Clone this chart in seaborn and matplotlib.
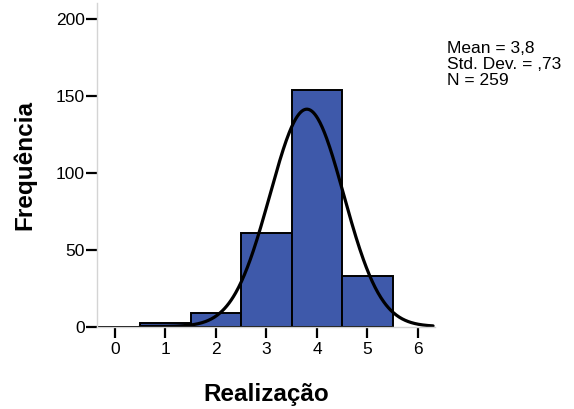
import numpy as np
import pandas as pd
import matplotlib
matplotlib.use("Agg")
import matplotlib.pyplot as plt
import seaborn as sns

# Score categories and their frequencies
scores = [0, 1, 2, 3, 4, 5]
counts = [0, 2, 9, 61, 154, 33]
bin_edges = [-0.5, 0.5, 1.5, 2.5, 3.5, 4.5, 5.5]

# Summary statistics shown in the side note
mean_val = 3.8
sd_val = 0.73
n_total = 259
stats_lines = ["Mean = 3,8", "Std. Dev. = ,73", "N = 259"]

x_ticks = [0, 1, 2, 3, 4, 5, 6]
y_ticks = [0, 50, 100, 150, 200]

sns.set_theme(style="white")
plt.rcParams["font.family"] = ["Liberation Sans", "DejaVu Sans"]

fig = plt.figure(figsize=(5.74, 4.09), dpi=100)
ax = fig.add_axes([0.1695, 0.2017, 0.5885, 0.791])

df = pd.DataFrame({"score": scores, "count": counts})
sns.histplot(data=df, x="score", weights="count", bins=bin_edges,
             color="#3E59AA", alpha=1.0, edgecolor="black", linewidth=1.4,
             ax=ax)

# Fitted normal curve scaled to counts (bin width 1)
xs = np.linspace(0.5, 6.3, 400)
ys = n_total * np.exp(-0.5 * ((xs - mean_val) / sd_val) ** 2) / (sd_val * np.sqrt(2 * np.pi))
sns.lineplot(x=xs, y=ys, color="black", linewidth=2.3, ax=ax)

ax.set_xlim(-0.35, 6.34)
ax.set_ylim(0, 210.7)
ax.set_xticks(x_ticks)
ax.set_yticks(y_ticks)
ax.tick_params(axis="both", which="major", direction="out", length=8,
               width=1.6, color="black", labelsize=12.5, labelcolor="black",
               bottom=True, left=True)
ax.tick_params(axis="x", pad=3)
ax.tick_params(axis="y", pad=1)

for side in ["top", "right"]:
    ax.spines[side].set_visible(False)
for side in ["left", "bottom"]:
    ax.spines[side].set_color("#d4d4d4")
    ax.spines[side].set_linewidth(1.0)

ax.set_xlabel("Realização", fontsize=17.5, fontweight="bold", labelpad=19,
              color="black")
ax.set_ylabel("Frequência", fontsize=17.5, fontweight="bold", labelpad=14,
              color="black")

fig.text(0.779, 0.900, "\n".join(stats_lines), fontsize=12.5, va="top",
         ha="left", linespacing=1.08, color="black")

fig.savefig("out.png", dpi=100)
